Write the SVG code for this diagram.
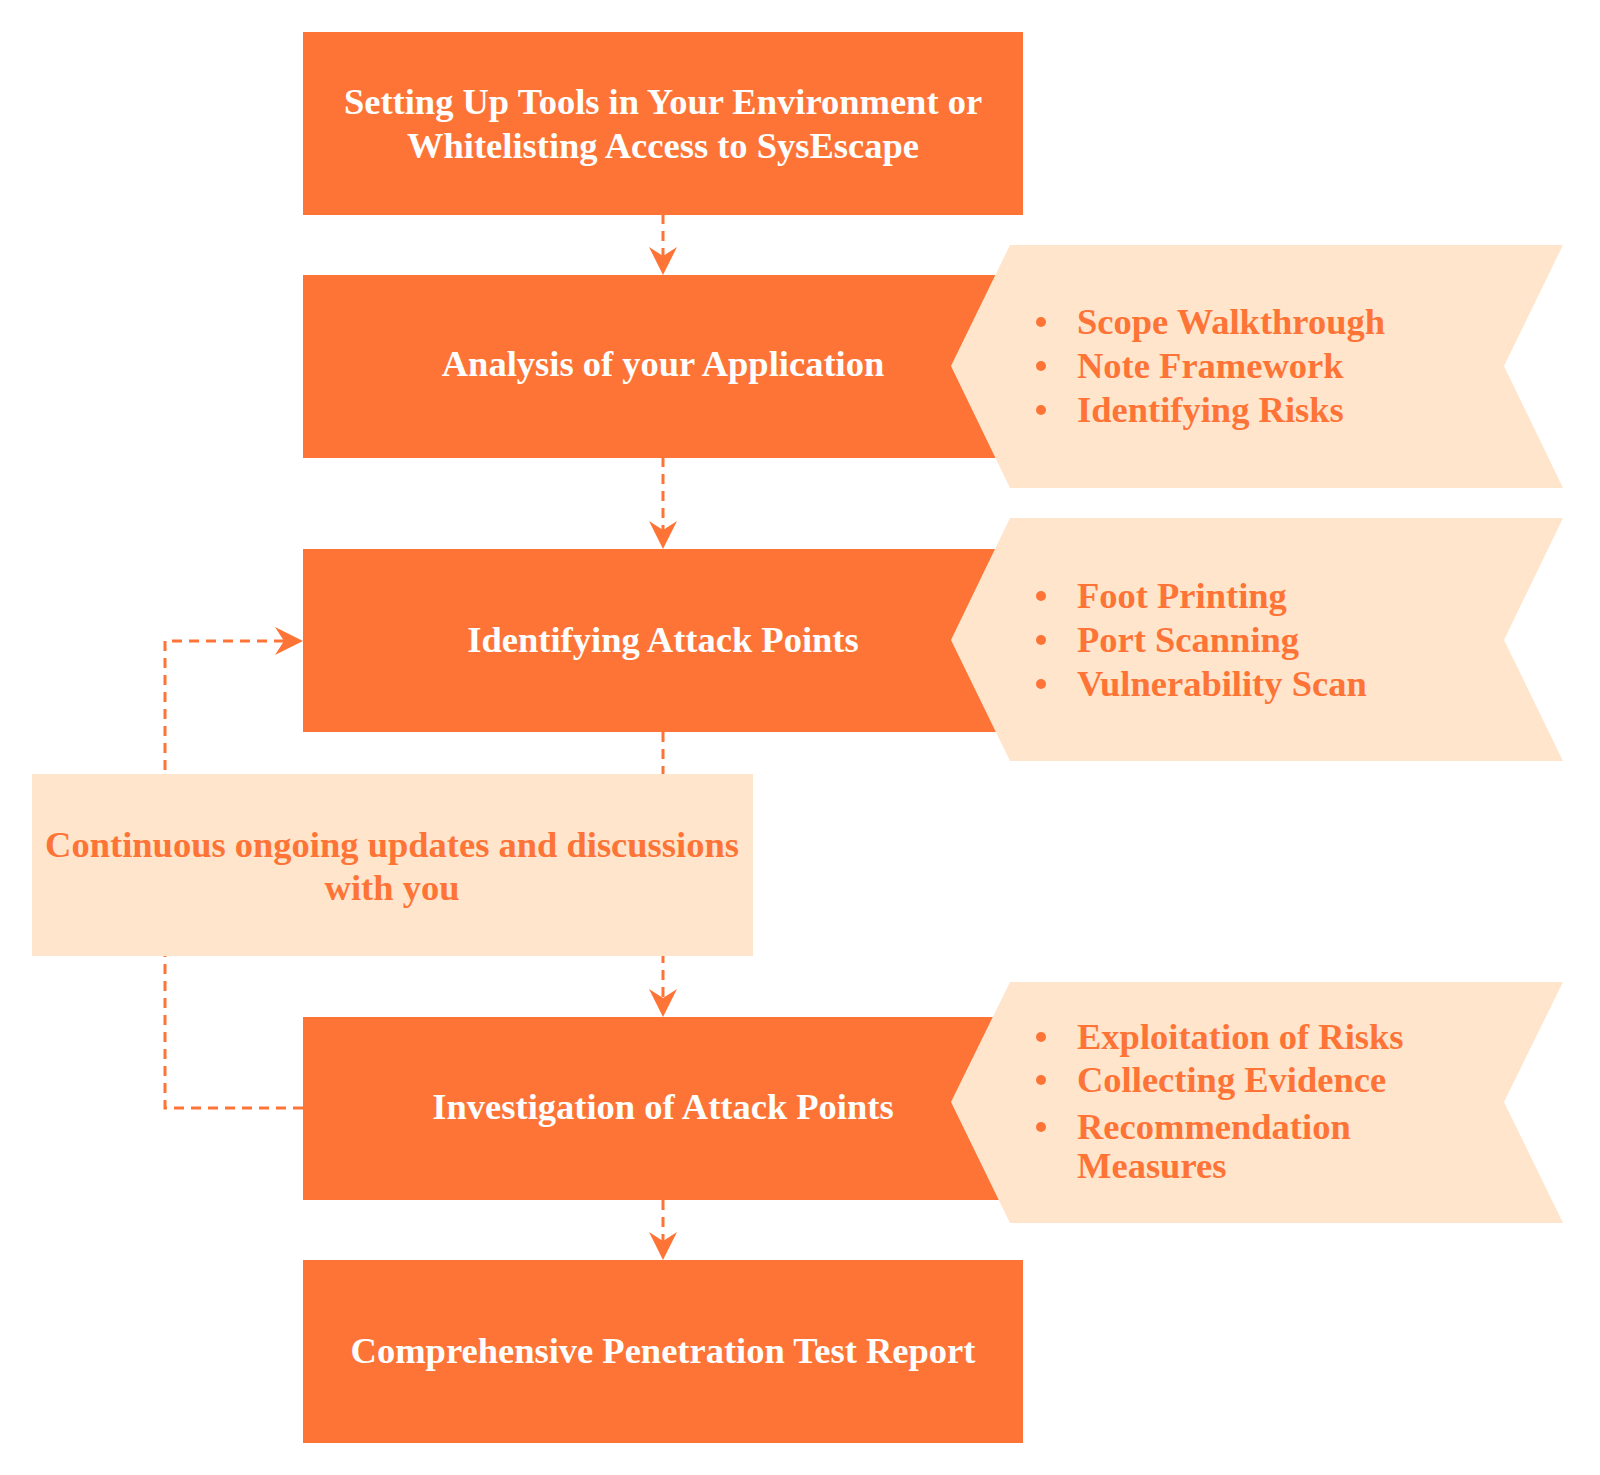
<svg xmlns="http://www.w3.org/2000/svg" width="1600" height="1475" viewBox="0 0 1600 1475">
<style>
.box{fill:#FE7437}
.light{fill:#FFE5CC}
.t{font-family:"Liberation Serif","Times New Roman",serif;font-weight:bold;font-size:36.5px}
.w{fill:#FFFFFF;text-anchor:middle}
.o{fill:#FE7437}
.oc{fill:#FE7437;text-anchor:middle}
.edge{fill:none;stroke:#FE7437;stroke-width:3;stroke-dasharray:10,7}
.dot{fill:#FE7437}
</style>
<defs>
<marker id="arr" viewBox="0 0 28 28" refX="10" refY="14" markerWidth="28" markerHeight="28" markerUnits="userSpaceOnUse" orient="auto">
<path d="M0,0 L28,14 L0,28 L9,14 z" fill="#FE7437"/>
</marker>
</defs>
<rect width="1600" height="1475" fill="#FFFFFF"/>
<g id="connectors">
<path class="edge" d="M663,214 L663,257" marker-end="url(#arr)"/>
<path class="edge" d="M663,457 L663,531" marker-end="url(#arr)"/>
<path class="edge" d="M663,732 L663,999" marker-end="url(#arr)"/>
<path class="edge" d="M663,1200 L663,1242" marker-end="url(#arr)"/>
<path class="edge" d="M303,1108 L165,1108 L165,641 L285,641" marker-end="url(#arr)"/>
</g>
<g id="n1">
<rect class="box" x="303" y="32" width="720" height="183"/>
<text class="t w" x="663" y="114">Setting Up Tools in Your Environment or</text>
<text class="t w" x="663" y="158">Whitelisting Access to SysEscape</text>
</g>
<g id="n2">
<rect class="box" x="303" y="275" width="720" height="183"/>
<text class="t w" x="663" y="376">Analysis of your Application</text>
</g>
<g id="n2notes">
<polygon class="light" points="1010,245 1563,245 1504,366 1563,488 1010,488 951,366"/>
<circle class="dot" cx="1041" cy="322" r="5"/>
<circle class="dot" cx="1041" cy="366" r="5"/>
<circle class="dot" cx="1041" cy="410" r="5"/>
<text class="t o" x="1077" y="334">Scope Walkthrough</text>
<text class="t o" x="1077" y="378">Note Framework</text>
<text class="t o" x="1077" y="422">Identifying Risks</text>
</g>
<g id="n3">
<rect class="box" x="303" y="549" width="720" height="183"/>
<text class="t w" x="663" y="652">Identifying Attack Points</text>
</g>
<g id="n3notes">
<polygon class="light" points="1010,518 1563,518 1504,640 1563,761 1010,761 951,640"/>
<circle class="dot" cx="1041" cy="596" r="5"/>
<circle class="dot" cx="1041" cy="640" r="5"/>
<circle class="dot" cx="1041" cy="684" r="5"/>
<text class="t o" x="1077" y="608">Foot Printing</text>
<text class="t o" x="1077" y="652">Port Scanning</text>
<text class="t o" x="1077" y="696">Vulnerability Scan</text>
</g>
<g id="n4">
<rect class="light" x="32" y="774" width="721" height="182"/>
<text class="t oc" x="392" y="857">Continuous ongoing updates and discussions</text>
<text class="t oc" x="392" y="900">with you</text>
</g>
<g id="n5">
<rect class="box" x="303" y="1017" width="720" height="183"/>
<text class="t w" x="663" y="1119">Investigation of Attack Points</text>
</g>
<g id="n5notes">
<polygon class="light" points="1010,982 1563,982 1504,1102 1563,1223 1010,1223 951,1102"/>
<circle class="dot" cx="1041" cy="1037" r="5"/>
<circle class="dot" cx="1041" cy="1080" r="5"/>
<circle class="dot" cx="1041" cy="1127" r="5"/>
<text class="t o" x="1077" y="1049">Exploitation of Risks</text>
<text class="t o" x="1077" y="1092">Collecting Evidence</text>
<text class="t o" x="1077" y="1139">Recommendation</text>
<text class="t o" x="1077" y="1178">Measures</text>
</g>
<g id="n6">
<rect class="box" x="303" y="1260" width="720" height="183"/>
<text class="t w" x="663" y="1363">Comprehensive Penetration Test Report</text>
</g>
</svg>
